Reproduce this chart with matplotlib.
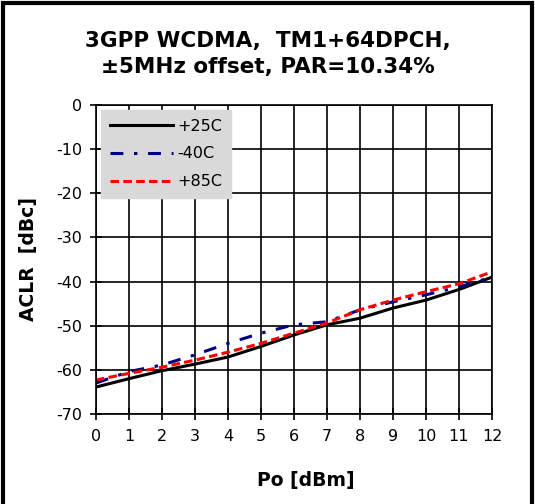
import matplotlib

matplotlib.use("Agg")
import matplotlib.pyplot as plt
from matplotlib.patches import Rectangle

po = [0, 1, 2, 3, 4, 5, 6, 7, 8, 9, 10, 11, 12]
aclr_25c = [-63.9, -62.0, -60.2, -58.7, -57.1, -54.7, -52.1, -49.8, -48.3, -46.0, -44.2, -41.8, -39.0]
aclr_m40c = [-63.0, -60.4, -58.9, -56.6, -54.0, -51.7, -49.8, -49.1, -46.4, -44.6, -43.0, -41.2, -39.0]
aclr_85c = [-62.3, -60.8, -59.4, -57.8, -56.0, -54.0, -51.7, -49.4, -46.4, -44.2, -42.3, -40.5, -37.8]

plt.rcParams["font.family"] = ["DejaVu Sans"]
plt.rcParams["axes.unicode_minus"] = False

fig = plt.figure(figsize=(5.35, 5.04), dpi=100)
ax = fig.add_axes([0.1794, 0.1786, 0.7402, 0.6131])

ax.plot(po, aclr_25c, color="black", lw=2.2, label="+25C")
ax.plot(po, aclr_m40c, color="#000080", lw=2.2, dashes=(4.2, 3.5, 1.1, 3.5), label="-40C")
ax.plot(po, aclr_85c, color="red", lw=2.2, dashes=(2.8, 1.4), label="+85C")

ax.set_xlim(0, 12)
ax.set_ylim(-70, 0)
ax.set_xticks(range(0, 13))
ax.set_yticks(range(-70, 1, 10))
ax.grid(True, color="black", lw=1.2)
ax.tick_params(direction="inout", length=8, width=1.2, labelsize=11.5)
ax.tick_params(axis="x", pad=7)
ax.tick_params(axis="y", pad=6)
for s in ax.spines.values():
    s.set_linewidth(1.2)

ax.set_xlabel("Po [dBm]", fontsize=13.5, fontweight="bold", labelpad=19)
ax.xaxis.label.set_x(0.53)
ax.set_ylabel("ACLR  [dBc]", fontsize=13.5, fontweight="bold", labelpad=13)
fig.text(0.5, 0.893, "3GPP WCDMA,  TM1+64DPCH,\n\u00b15MHz offset, PAR=10.34%",
         ha="center", va="center", fontsize=15.5, fontweight="bold", linespacing=1.35)

leg = ax.legend(loc="upper left", fontsize=11.5, frameon=True, fancybox=False,
                facecolor="#d9d9d9", edgecolor="#d9d9d9", framealpha=1,
                handlelength=4.0, handletextpad=0.25, borderaxespad=0.3,
                labelspacing=0.8, borderpad=0.55)

fig.patches.append(Rectangle((0.006, -0.1), 0.988, 1.094, transform=fig.transFigure,
                             fill=False, edgecolor="black", lw=3))

fig.savefig("out.png", dpi=100)
